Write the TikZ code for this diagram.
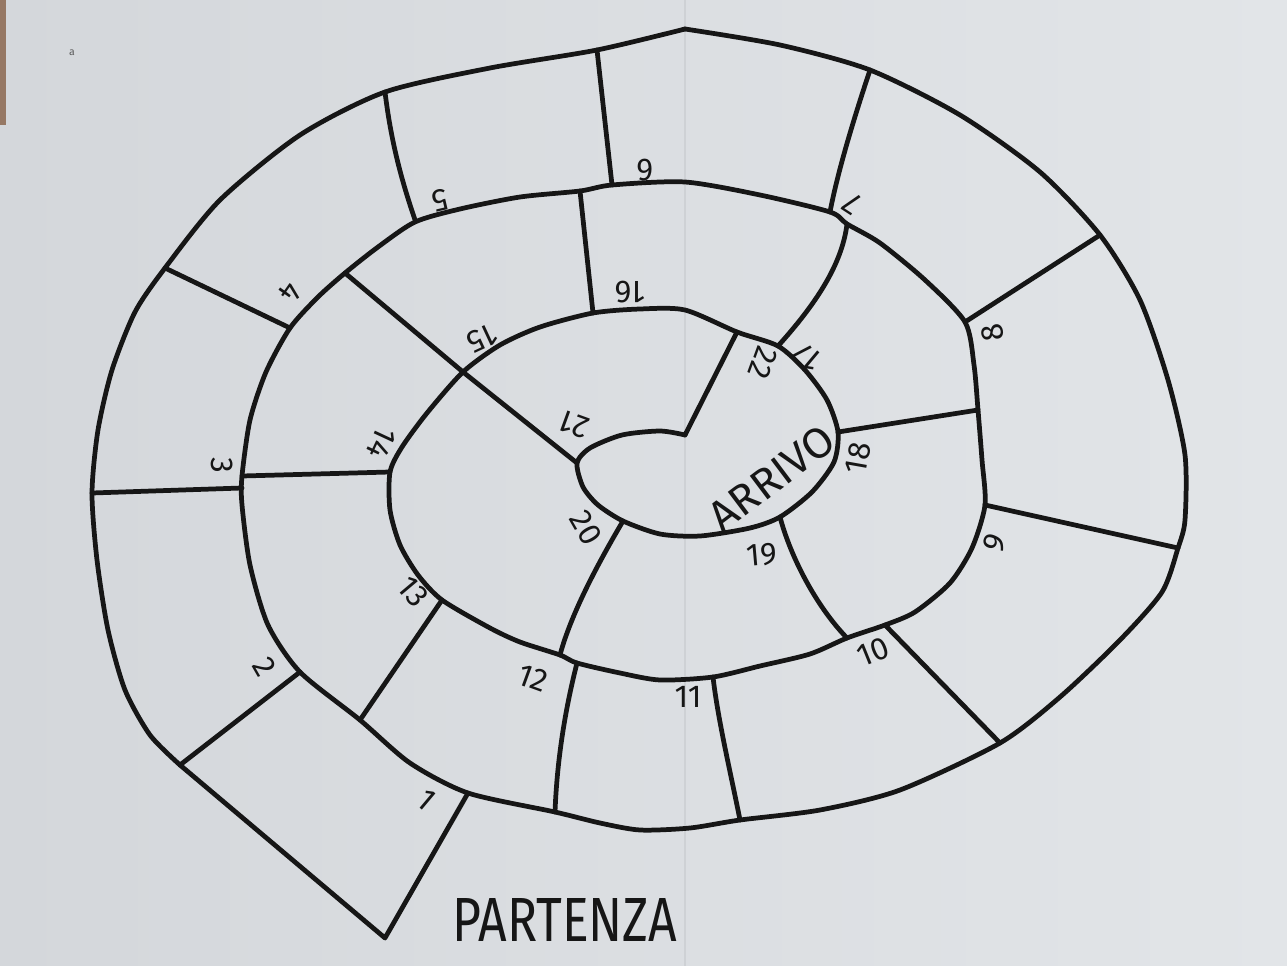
\documentclass[tikz,border=0pt]{standalone}
\usepackage{fontspec}
\setmainfont{Fira Sans}
\definecolor{ink}{RGB}{22,22,22}
\definecolor{paperL}{RGB}{212,215,219}
\definecolor{paperR}{RGB}{226,229,232}
\definecolor{foldc}{RGB}{206,209,213}
\definecolor{tablec}{RGB}{150,120,100}
\begin{document}
\begin{tikzpicture}[x=0.02cm,y=-0.02cm,
  wall/.style={line width=2.7pt, draw=ink, line cap=round, line join=round},
  num/.style={font=\fontsize{18}{18}\selectfont, text=ink, inner sep=0pt},
  bigword/.style={text=ink, inner sep=0pt}
]
\useasboundingbox (0,0) rectangle (1287,966);
\shade[left color=paperL, right color=paperR] (0,0) rectangle (1287,966);
\fill[tablec] (0,0) rectangle (6,125);
\coordinate (foldT) at (685,0);
\coordinate (foldB) at (685,966);
\draw[foldc, line width=0.6pt] (foldT) -- (foldB);
\node[font=\fontsize{6}{6}\selectfont, text=ink!70, inner sep=0pt] (tinya) at (72,53) {a};

% divider end points
\coordinate (st1) at (468,793);
\coordinate (st2) at (385,938);
\coordinate (d12o) at (180,765);   \coordinate (d12i) at (300,672);
\coordinate (d23o) at (92,493);    \coordinate (d23i) at (242,488);
\coordinate (d34o) at (165,268);   \coordinate (d34i) at (290,328);
\coordinate (d45o) at (385,92);    \coordinate (d45i) at (415,220);
\coordinate (d56o) at (597,50);    \coordinate (d56i) at (612,185);
\coordinate (d67o) at (870,70);    \coordinate (d67i) at (830,212);
\coordinate (d78o) at (1100,235);  \coordinate (d78i) at (965,322);
\coordinate (d89o) at (1178,548);  \coordinate (d89i) at (985,505);
\coordinate (d910o) at (1000,743); \coordinate (d910i) at (885,625);
\coordinate (d1011o) at (740,820); \coordinate (d1011i) at (713,677);
\coordinate (d1112o) at (555,812); \coordinate (d1112i) at (577,663);
\coordinate (d1213o) at (360,720); \coordinate (d1213i) at (442,600);
\coordinate (d1314o) at (242,476); \coordinate (d1314i) at (390,472);
\coordinate (d1415o) at (345,273); \coordinate (d1415i) at (463,372);
\coordinate (d2021i) at (577,463);
\coordinate (d1516o) at (580,191); \coordinate (d1516i) at (593,313);
\coordinate (d1617o) at (847,224); \coordinate (d1617i) at (778,346);
\coordinate (d1718o) at (978,410); \coordinate (d1718i) at (838,432);
\coordinate (d1819o) at (780,517); \coordinate (d1819i) at (847,638);
\coordinate (d1920o) at (623,521); \coordinate (d1920i) at (560,655);
\coordinate (d2122o) at (737,332); \coordinate (d2122i) at (685,435);

% start box
\draw[wall] (st1) -- (st2) -- (d12o);
% the spiral (outer part up to the fold peak)
\draw[wall] plot[smooth, tension=0.45] coordinates {
 (180,765) (150,735) (125,690) (108,630) (97,560) (92,493) (98,430) (112,370)
 (135,312) (165,268) (220,200) (300,135) (385,92) (490,68) (597,50) (685,29)};
% the spiral (rest)
\draw[wall] plot[smooth, tension=0.45] coordinates {
 (685,29) (780,45) (870,70) (960,115) (1040,172) (1100,235) (1140,300)
 (1168,380) (1185,455) (1185,520) (1178,548) (1162,592) (1120,640) (1060,697)
 (1000,743) (900,790) (820,810) (740,820) (690,828) (640,830) (600,823)
 (555,812) (468,793) (410,763) (360,720) (300,672) (268,625) (250,565)
 (242,505) (242,476) (250,420) (266,372) (290,328) (318,297) (345,273) (378,247)
 (415,222) (460,209) (520,197) (580,191) (612,185) (685,182) (760,195) (830,212)
 (847,224) (880,243) (925,280) (965,322) (974,365) (978,410) (982,460)
 (985,505) (972,548) (950,583) (915,612) (885,625) (847,638) (810,654)
 (760,666) (713,677) (660,680) (620,673) (577,663) (560,655) (520,642)
 (490,628) (442,600) (418,575) (400,545) (390,510) (390,472) (402,447)
 (427,413) (463,372) (500,345) (540,327) (593,313) (640,309) (685,310)
 (737,332) (778,346) (805,370) (827,400) (838,432) (834,462) (812,492)
 (780,517) (750,528) (700,536) (660,534) (623,521) (598,505) (583,487)
 (577,463) (590,448) (622,435) (660,431) (685,435)};

% dividers
\draw[wall] (d12o) -- (d12i);
\draw[wall] (d23o) -- (d23i);
\draw[wall] (d34o) -- (d34i);
\draw[wall] (d45o) .. controls (392,150) and (405,190) .. (d45i);
\draw[wall] (d56o) -- (d56i);
\draw[wall] (d67o) .. controls (855,115) and (838,170) .. (d67i);
\draw[wall] (d78o) -- (d78i);
\draw[wall] (d89o) -- (d89i);
\draw[wall] (d910o) -- (d910i);
\draw[wall] (d1011o) .. controls (730,770) and (718,720) .. (d1011i);
\draw[wall] (d1112o) .. controls (557,760) and (565,710) .. (d1112i);
\draw[wall] (d1213o) -- (d1213i);
\draw[wall] (d1314o) -- (d1314i);
\draw[wall] (d1415o) -- (d1415i) -- (d2021i);
\draw[wall] (d1516o) -- (d1516i);
\draw[wall] (d1617o) .. controls (842,265) and (815,305) .. (d1617i);
\draw[wall] (d1718o) -- (d1718i);
\draw[wall] (d1819o) .. controls (790,555) and (815,605) .. (d1819i);
\draw[wall] (d1920o) .. controls (603,555) and (572,610) .. (d1920i);
\draw[wall] (d2122i) -- (d2122o);

% numbers
\node[num, rotate=-40]  (n1)  at (427,800) {1};
\node[num, rotate=-60]  (n2)  at (265,667) {2};
\node[num, rotate=-90]  (n3)  at (222,465) {3};
\node[num, rotate=-125] (n4)  at (290,293) {4};
\node[num, rotate=-167] (n5)  at (440,200) {5};
\node[num, rotate=180]  (n6)  at (645,170) {6};
\node[num, rotate=147]  (n7)  at (852,203) {7};
\node[num, rotate=100]  (n8)  at (993,333) {8};
\node[num, rotate=69]   (n9)  at (995,543) {9};
\node[num, rotate=22]   (n10) at (873,652) {10};
\node[num, rotate=0]    (n11) at (688,697) {11};
\node[num, rotate=-20]  (n12) at (533,678) {12};
\node[num, rotate=-50]  (n13) at (413,592) {13};
\node[num, rotate=-115] (n14) at (382,443) {14};
\node[num, rotate=-155] (n15) at (482,338) {15};
\node[num, rotate=180]  (n16) at (630,292) {16};
\node[num, rotate=140]  (n17) at (808,357) {17};
\node[num, rotate=80]   (n18) at (858,458) {18};
\node[num, rotate=5]    (n19) at (762,555) {19};
\node[num, rotate=-60]  (n20) at (586,528) {20};
\node[num, rotate=160]  (n21) at (574,425) {21};
\node[num, rotate=-110] (n22) at (763,363) {22};

\node[bigword, rotate=37] (arrivo) at (772,478) {\resizebox{2.9cm}{0.6cm}{ARRIVO}};
\node[bigword] (partenza) at (565,920) {\resizebox{4.5cm}{0.86cm}{PARTENZA}};
\end{tikzpicture}
\end{document}
